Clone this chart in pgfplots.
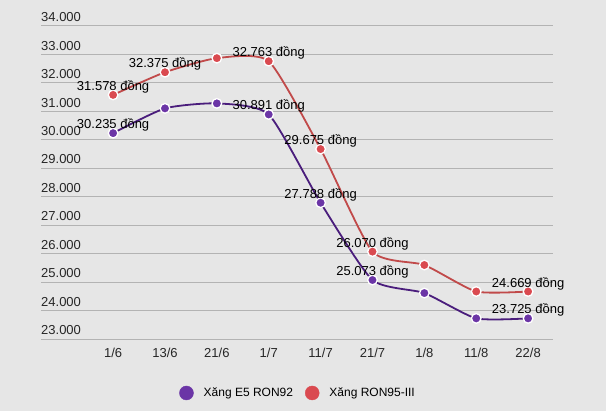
\documentclass[border=0pt]{standalone}
\usepackage{pgfplots}
\usepackage{pgfplotstable}
\pgfplotsset{compat=1.18}
\usepackage{fontspec}
\setmainfont{Liberation Sans}
\definecolor{bg}{HTML}{E6E6E6}
\definecolor{gridc}{HTML}{B3B3B3}
\definecolor{pline}{HTML}{4A1D7C}
\definecolor{pmark}{HTML}{6B35A6}
\definecolor{rline}{HTML}{C14A4A}
\definecolor{rmark}{HTML}{DA4A50}

\pgfplotstableread[col sep=comma]{
x,y,lab
0,30235,30.235 đồng
1,31105,
2,31280,
3,30891,30.891 đồng
4,27788,27.788 đồng
5,25073,25.073 đồng
6,24615,
7,23725,
8,23725,23.725 đồng
}\purpletab

\pgfplotstableread[col sep=comma]{
x,y,lab
0,31578,31.578 đồng
1,32375,32.375 đồng
2,32870,
3,32763,32.763 đồng
4,29675,29.675 đồng
5,26070,26.070 đồng
6,25600,
7,24669,
8,24669,24.669 đồng
}\redtab

\begin{document}
\begin{tikzpicture}
\fill[bg] (0,0) rectangle (606bp,411bp);
\begin{axis}[
  at={(41bp,72bp)}, anchor=south west,
  scale only axis, width=512bp, height=313bp,
  xmin=-1.39, xmax=8.48, ymin=23000, ymax=34000,
  scaled y ticks=false,
  ytick={23000,24000,...,34000},
  yticklabels={23.000,24.000,25.000,26.000,27.000,28.000,29.000,30.000,31.000,32.000,33.000,34.000},
  xtick={0,...,8},
  xticklabels={1/6,13/6,21/6,1/7,11/7,21/7,1/8,11/8,22/8},
  axis line style={draw=none},
  major tick length=0pt,
  ymajorgrids, grid style={gridc, line width=1bp},
  tick label style={font=\fontsize{13bp}{15bp}\selectfont, text=black!85},
  yticklabel style={anchor=south west, inner sep=0pt, yshift=4bp},
  xticklabel style={anchor=north, inner sep=0pt, yshift=-9bp},
  clip=false,
  nodes near coords,
  point meta=explicit symbolic,
  every node near coord/.append style={anchor=base, inner sep=0pt, yshift=4.5bp, font=\fontsize{13bp}{15bp}\selectfont, text=black},
  legend columns=2,
  legend style={at={(0.502,-0.1725)}, anchor=center, draw=none, fill=none,
    font=\fontsize{12bp}{14bp}\selectfont,
    /tikz/every odd column/.append style={column sep=8bp},
    /tikz/every even column/.append style={column sep=10bp}},
]
\addlegendimage{legend image code/.code={\fill[pmark] (0bp,0bp) circle (7bp);}}
\addlegendentry{Xăng E5 RON92}
\addlegendimage{legend image code/.code={\fill[rmark] (0bp,0bp) circle (7bp);}}
\addlegendentry{Xăng RON95-III}
\addplot[rline, line width=1.8bp, smooth, tension=0.35, mark=*, mark size=4.8bp,
  mark options={fill=rmark, draw=white, line width=1.3bp}]
  table[x=x, y=y, meta=lab] {\redtab};
\addplot[pline, line width=1.8bp, smooth, tension=0.35, mark=*, mark size=4.8bp,
  mark options={fill=pmark, draw=white, line width=1.3bp}]
  table[x=x, y=y, meta=lab] {\purpletab};
\end{axis}
\end{tikzpicture}
\end{document}
